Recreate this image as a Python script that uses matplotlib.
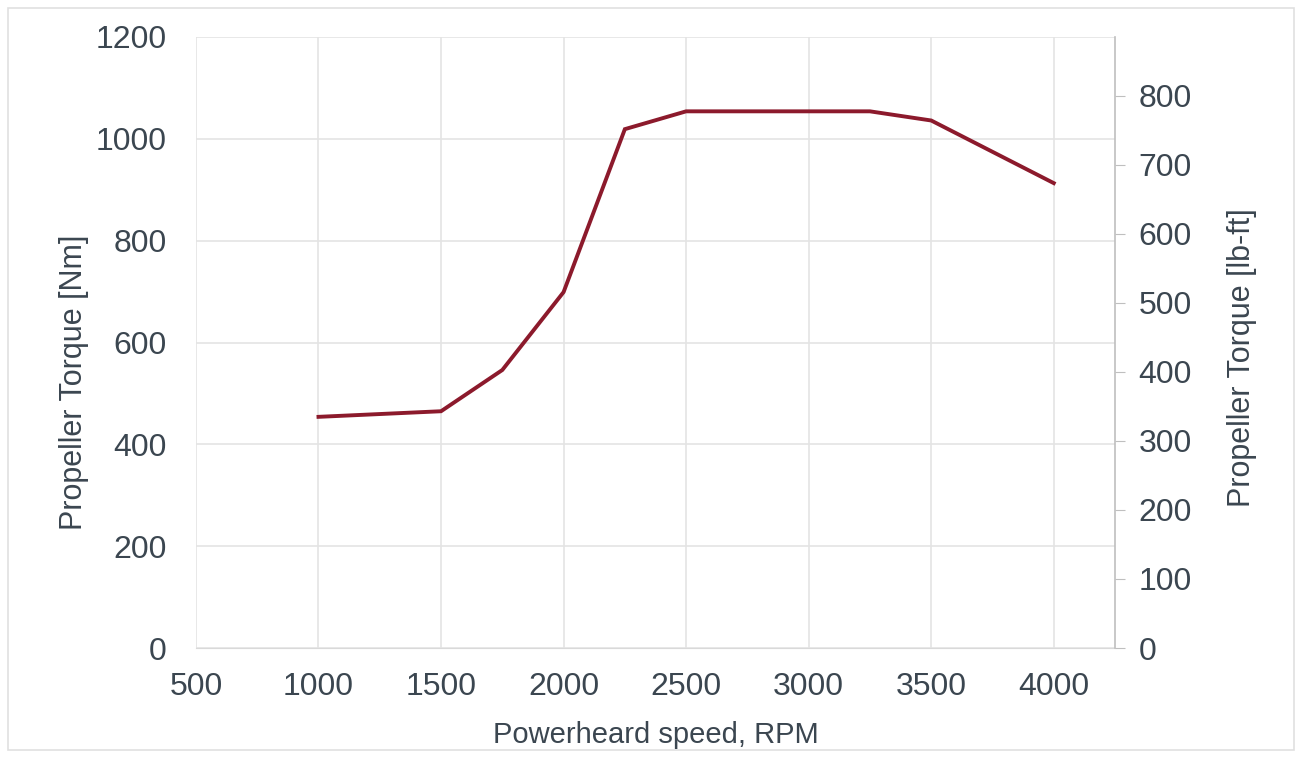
"""Propeller torque vs powerhead speed, dual axis (Nm / lb-ft)."""
import matplotlib
matplotlib.use("Agg")
import matplotlib.pyplot as plt
from matplotlib.patches import Rectangle
from matplotlib import font_manager

rpm = [1000, 1500, 1750, 2000, 2250, 2500, 3000, 3250, 3500, 4000]
torque_nm = [454, 465, 546, 699, 1019, 1054, 1054, 1054, 1036, 913]
x_ticks = [500, 1000, 1500, 2000, 2500, 3000, 3500, 4000]
nm_ticks = [0, 200, 400, 600, 800, 1000, 1200]
lbft_ticks = [0, 100, 200, 300, 400, 500, 600, 700, 800]
NM_PER_LBFT = 1.35582

TEXT = "#3b4650"
LINE = "#8c1a2c"
GRID = "#e4e4e4"

names = {f.name for f in font_manager.fontManager.ttflist}
narrow = "Liberation Sans Narrow" if "Liberation Sans Narrow" in names else "Liberation Sans"

plt.rcParams.update({"font.family": ["Liberation Sans", "DejaVu Sans"], "font.size": 23})

fig = plt.figure(figsize=(13.02, 7.58), dpi=100)
ax = fig.add_axes([0.1505, 0.1451, 0.7059, 0.8061])

ax.plot(rpm, torque_nm, color=LINE, lw=2.8, solid_joinstyle="miter")
ax.set_xlim(500, 4250)
ax.set_ylim(0, 1200)
ax.set_xticks(x_ticks)
ax.set_yticks(nm_ticks)
ax.grid(True, color=GRID, lw=1.2)
ax.set_axisbelow(True)
for s in ("top", "left", "right"):
    ax.spines[s].set_visible(False)
ax.spines["bottom"].set_color("#d9d9d9")
ax.tick_params(axis="both", length=0, colors=TEXT, labelsize=23)
ax.tick_params(axis="x", pad=17)
ax.tick_params(axis="y", pad=21)
for lab in ax.get_xticklabels():
    lab.set_family(narrow)
ax.set_xlabel("Powerheard speed, RPM", color=TEXT, fontsize=21, family=narrow, labelpad=14)
ax.set_ylabel("Propeller Torque [Nm]", color=TEXT, fontsize=22, labelpad=5)
ax.yaxis.label.set_y(0.435)

ax2 = ax.twinx()
ax2.set_ylim(0, 1200 / NM_PER_LBFT)
ax2.set_yticks(lbft_ticks)
for s in ("top", "left", "bottom"):
    ax2.spines[s].set_visible(False)
ax2.spines["right"].set_color("#bfbfbf")
ax2.spines["right"].set_linewidth(1.2)
ax2.tick_params(axis="y", length=7, color="#bfbfbf", labelcolor=TEXT, labelsize=23, pad=10)
ax2.set_ylabel("Propeller Torque [lb-ft]", color=TEXT, fontsize=22, labelpad=25)
ax2.yaxis.label.set_y(0.476)

# light frame around the whole chart
fig.patches.append(Rectangle((0.006, 0.01), 0.988, 0.979, transform=fig.transFigure,
                             fill=False, ec="#e0e0e0", lw=1.2))

fig.savefig("out.png", dpi=100)
